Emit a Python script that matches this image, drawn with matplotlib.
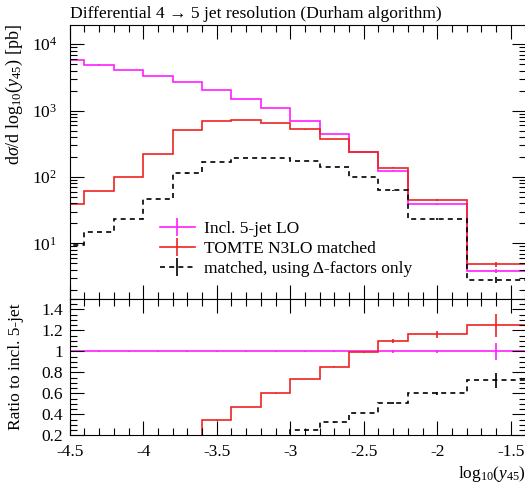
import numpy as np
import matplotlib
matplotlib.use('Agg')
import matplotlib.pyplot as plt
from matplotlib.ticker import MultipleLocator, FixedLocator, FixedFormatter, LogLocator, NullFormatter, FuncFormatter

# ---------------- data ----------------
edges = [-4.6, -4.4, -4.2, -4.0, -3.8, -3.6, -3.4, -3.2, -3.0, -2.8, -2.6, -2.4, -2.2, -1.8, -1.4]
lo5 = [5740, 4950, 4100, 3370, 2700, 2050, 1515, 1085, 705, 440, 240, 125, 38.7, 3.86]
tomte = [39.5, 61, 100, 222, 510, 700, 715, 650, 520, 375, 238, 137, 45, 4.82]
delta = [9.4, 14.8, 23.2, 46.5, 113, 170, 191, 191, 174, 142, 99, 63, 23.2, 2.8]
lo5_relerr = [0.001, 0.001, 0.001, 0.001, 0.001, 0.002, 0.002, 0.003, 0.003, 0.004, 0.006, 0.012, 0.015, 0.08]
tomte_relerr = [0.002, 0.002, 0.002, 0.002, 0.002, 0.002, 0.003, 0.003, 0.004, 0.005, 0.008, 0.018, 0.026, 0.088]
delta_relerr = [0.002, 0.002, 0.002, 0.002, 0.002, 0.002, 0.003, 0.003, 0.004, 0.005, 0.008, 0.018, 0.026, 0.097]

labels = ['Incl. 5-jet LO', 'TOMTE N3LO matched', 'matched, using Δ-factors only']
title = 'Differential 4 → 5 jet resolution (Durham algorithm)'
ratio_ticks = [0.2, 0.4, 0.6, 0.8, 1.0, 1.2, 1.4]
ratio_ticklabels = ['0.2', '0.4', '0.6', '0.8', '1', '1.2', '1.4']

# ---------------- style ----------------
plt.rcParams['font.family'] = ['Liberation Serif', 'DejaVu Serif']
plt.rcParams['mathtext.fontset'] = 'custom'
plt.rcParams['mathtext.rm'] = 'Liberation Serif'
plt.rcParams['mathtext.it'] = 'Liberation Serif:italic'
plt.rcParams['mathtext.bf'] = 'Liberation Serif:bold'
plt.rcParams['axes.unicode_minus'] = False

FS = 12.5
c_lo = '#ff1eff'
c_tm = '#ee2222'
c_dl = 'black'
lw = 1.2

edges_a = np.array(edges)
centers = 0.5 * (edges_a[1:] + edges_a[:-1])
lo5_a = np.array(lo5)
tomte_a = np.array(tomte)
delta_a = np.array(delta)

fig = plt.figure(figsize=(5.25, 4.87), dpi=100)
W, H = 525.0, 487.0
L, R = 69.7, 526.0
axm = fig.add_axes([L / W, 1 - 299 / H, (R - L) / W, (299 - 24.7) / H])
axr = fig.add_axes([L / W, 1 - 435.3 / H, (R - L) / W, (435.3 - 299) / H], sharex=axm)

dash = (0, (3.0, 2.5))

# main panel
axm.stairs(lo5_a, edges_a, color=c_lo, lw=lw, baseline=None)
axm.stairs(tomte_a, edges_a, color=c_tm, lw=lw, baseline=None)
axm.stairs(delta_a, edges_a, color=c_dl, lw=lw, linestyle=dash, baseline=None)
axm.errorbar(centers, lo5_a, yerr=lo5_a * np.array(lo5_relerr), fmt='none', ecolor=c_lo, elinewidth=lw)
axm.errorbar(centers, tomte_a, yerr=tomte_a * np.array(tomte_relerr), fmt='none', ecolor=c_tm, elinewidth=lw)
axm.errorbar(centers, delta_a, yerr=delta_a * np.array(delta_relerr), fmt='none', ecolor=c_dl, elinewidth=lw)

axm.set_yscale('log')
axm.set_ylim(1.45, 1.97e4)
axm.set_xlim(-4.5, -1.396)

# legend
h1 = axm.errorbar([], [], yerr=[], color=c_lo, lw=lw, elinewidth=lw)
h2 = axm.errorbar([], [], yerr=[], color=c_tm, lw=lw, elinewidth=lw)
h3 = axm.errorbar([], [], yerr=[], color=c_dl, lw=lw, elinewidth=lw, linestyle=dash)
leg = axm.legend([h1, h2, h3], labels, loc='upper left',
                 bbox_to_anchor=((160 - L) / (R - L), (299 - 221) / (299 - 24.7)),
                 frameon=False, fontsize=FS, handlelength=2.0, handletextpad=0.55, labelspacing=0.22,
                 borderaxespad=0, borderpad=0)

# ratio panel
axr.stairs(lo5_a / lo5_a, edges_a, color=c_lo, lw=lw, baseline=None)
axr.stairs(tomte_a / lo5_a, edges_a, color=c_tm, lw=lw, baseline=None)
axr.stairs(delta_a / lo5_a, edges_a, color=c_dl, lw=lw, linestyle=dash, baseline=None)
axr.errorbar(centers, lo5_a / lo5_a, yerr=np.array(lo5_relerr), fmt='none', ecolor=c_lo, elinewidth=lw)
axr.errorbar(centers, tomte_a / lo5_a, yerr=tomte_a / lo5_a * np.array(tomte_relerr), fmt='none', ecolor=c_tm, elinewidth=lw)
axr.errorbar(centers, delta_a / lo5_a, yerr=delta_a / lo5_a * np.array(delta_relerr), fmt='none', ecolor=c_dl, elinewidth=lw)
axr.set_ylim(0.2, 1.5)

axr.yaxis.set_major_locator(FixedLocator(ratio_ticks))
axr.yaxis.set_major_formatter(FixedFormatter(ratio_ticklabels))
axr.yaxis.set_minor_locator(MultipleLocator(0.05))

axr.xaxis.set_major_locator(MultipleLocator(0.5))
axr.xaxis.set_minor_locator(MultipleLocator(0.1))
axr.xaxis.set_major_formatter(FuncFormatter(lambda v, p: '%g' % v))

axm.yaxis.set_major_locator(LogLocator(base=10, numticks=10))
axm.yaxis.set_minor_locator(LogLocator(base=10, subs=np.arange(2, 10), numticks=20))
axm.yaxis.set_minor_formatter(NullFormatter())
axm.yaxis.set_major_formatter(FuncFormatter(lambda v, p: r'$10^{%d}$' % round(np.log10(v))))
plt.setp(axm.get_xticklabels(), visible=False)

for ax in (axm, axr):
    ax.tick_params(which='both', direction='in', top=True, right=True, labelsize=FS, width=0.8)
    ax.tick_params(which='major', length=10)
    ax.tick_params(which='minor', length=4.8)
    for s in ax.spines.values():
        s.set_linewidth(0.8)
axm.tick_params(axis='y', which='major', pad=9)
axr.tick_params(axis='y', which='major', pad=5)
axr.tick_params(axis='x', which='major', pad=6)

axm.set_title(title, loc='left', fontsize=12.6, pad=5)
axm.set_ylabel(r'd$\sigma$/d log$_{10}$($y_{45}$) [pb]', fontsize=13, loc='top')
axm.yaxis.set_label_coords(-0.098, 1.0)
axr.set_ylabel('Ratio to incl. 5-jet', fontsize=FS)
axr.yaxis.set_label_coords(-0.1, 0.5)
axr.set_xlabel(r'log$_{10}$($y_{45}$)', fontsize=FS, loc='right', labelpad=3)

fig.savefig('out.png', dpi=100)
